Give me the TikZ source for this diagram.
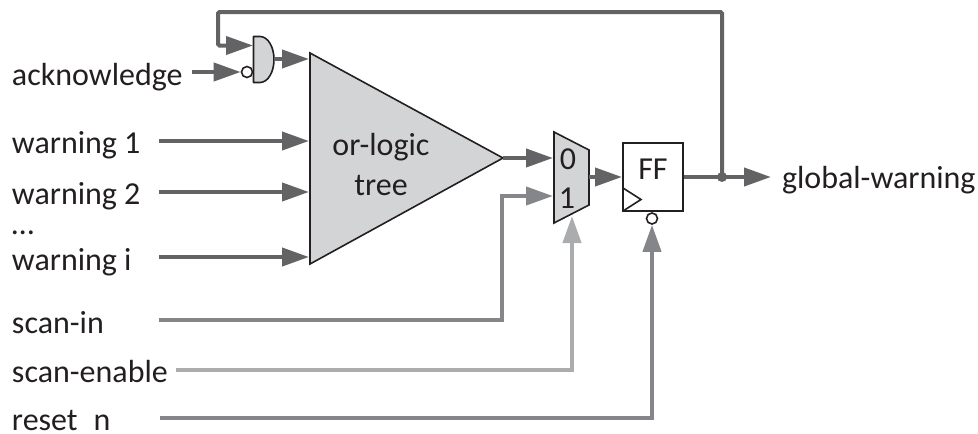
\documentclass[tikz,border=0pt]{standalone}
\usepackage{fontspec}
\setmainfont{Carlito}
\usetikzlibrary{arrows.meta}
\definecolor{wdark}{HTML}{636365}
\definecolor{wmid}{HTML}{85868A}
\definecolor{wlight}{HTML}{ABACAE}
\definecolor{wfill}{HTML}{D3D4D6}
\definecolor{wink}{HTML}{231F20}
\tikzset{
  x=1pt,y=-1pt,
  wire/.style={line width=4pt,-{Triangle[length=27pt,width=18pt]}},
  shapeline/.style={draw=wink,line width=1.6pt,line join=miter},
  greyed/.style={shapeline,fill=wfill},
  bubble/.style={circle,draw=wink,fill=white,line width=1.6pt,inner sep=0pt,minimum size=11pt},
  lab/.style={text=wink,font=\fontsize{32}{34}\selectfont,anchor=base west,inner sep=0pt,outer sep=0pt},
  inlab/.style={text=wink,font=\fontsize{32}{34}\selectfont,anchor=base,inner sep=0pt,outer sep=0pt},
  dot/.style={circle,fill=wdark,inner sep=0pt,minimum size=10pt}
}
\begin{document}
\begin{tikzpicture}
\useasboundingbox (0,0) rectangle (978,434);
% shapes
\coordinate (tA) at (310,53);
\coordinate (tB) at (503,158);
\coordinate (tC) at (310,264);
\draw[greyed] (tA) -- (tB) -- (tC) -- cycle;
\draw[greyed] (554,132) -- (589,150) -- (589,205) -- (554,223) -- cycle;
\draw[greyed,line join=round] (253.5,36.5) -- (260,36.5) .. controls (268,36.5) and (274,47) .. (274,59.5) .. controls (274,72) and (268,82.5) .. (260,82.5) -- (253.5,82.5) -- cycle;
\node[bubble] (gb) at (247,72) {};
\node[shapeline,fill=white,rectangle,minimum width=60pt,minimum height=68pt,inner sep=0pt] (ff) at (653,177) {};
\draw[shapeline] (623,188) -- (641,199.5) -- (623,211);
\node[bubble] (rb) at (652,218.5) {};
% text
\node[lab] (tack) at (12,85) {acknowledge};
\node[lab] (tw1) at (12,153) {warning 1};
\node[lab] (tw2) at (12,204) {warning 2};
\node[lab] (tdots) at (12,234) {\dots};
\node[lab] (twi) at (12,270) {warning i};
\node[lab] (tsi) at (12,333) {scan-in};
\node[lab] (tse) at (12,382) {scan-enable};
\node[lab] (trn) at (12,430) {reset\hspace{16pt}n};
\node[lab] (tgw) at (782,188) {global-warning};
\node[inlab] (tor) at (381,155) {or-logic};
\node[inlab] (ttr) at (381,195) {tree};
\node[inlab] (m0) at (568,169) {0};
\node[inlab] (m1) at (567,208) {1};
\node[inlab] (fft) at (653,179) {FF};
% connector ends
\coordinate (sack) at (192,72);
\coordinate (ga) at (253,45.5);
\coordinate (gout) at (274,59);
\coordinate (tin) at (309,59);
\coordinate (sw1) at (159,141);
\coordinate (ew1) at (309,141);
\coordinate (sw2) at (159,192);
\coordinate (ew2) at (309,192);
\coordinate (swi) at (159,257);
\coordinate (ewi) at (309,257);
\coordinate (m0in) at (553,158);
\coordinate (m1in) at (553,196);
\coordinate (ssi) at (159,320);
\coordinate (sse) at (176,370);
\coordinate (msel) at (572,216);
\coordinate (srn) at (160,418);
\coordinate (mout) at (589,177);
\coordinate (ffin) at (622,177);
\coordinate (gwe) at (771,177);
\coordinate (topr) at (722,12);
\coordinate (topl) at (218,12);
\node[dot] (fork) at (722,177) {};
% connectors
\draw[wire,wdark,rounded corners=1.5pt] (fork.center) -- (topr) -- (topl) |- (ga);
\draw[wire,wdark] (sack) -- (gb.west);
\draw[wire,wdark] (gout) -- (tin);
\draw[wire,wdark] (sw1) -- (ew1);
\draw[wire,wdark] (sw2) -- (ew2);
\draw[wire,wdark] (swi) -- (ewi);
\draw[wire,wdark] (tB) -- (m0in);
\draw[wire,wmid] (ssi) -| (502,196) -- (m1in);
\draw[wire,wlight] (sse) -| (msel);
\draw[wire,wmid] (srn) -| (rb.south);
\draw[wire,wdark] (mout) -- (ffin);
\draw[wire,wdark] (ff.east) -- (gwe);
\end{tikzpicture}
\end{document}
